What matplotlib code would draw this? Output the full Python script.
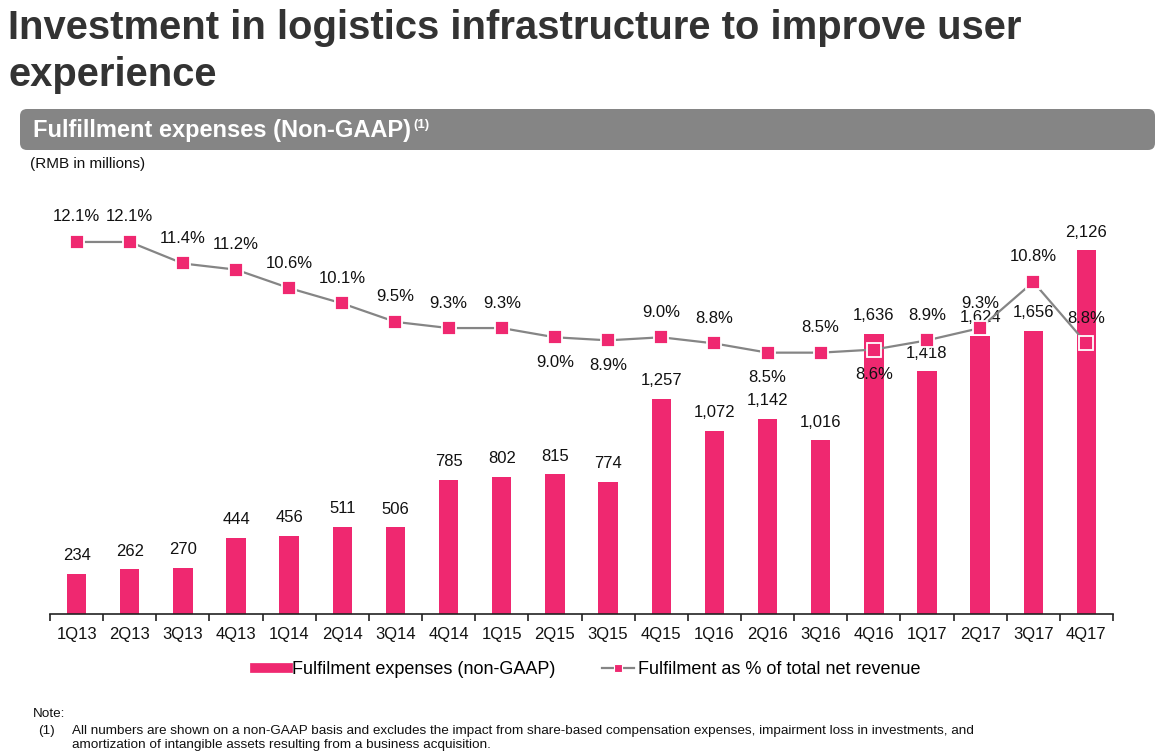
import matplotlib
matplotlib.use("Agg")
import matplotlib.pyplot as plt
from matplotlib import font_manager
from matplotlib.patches import FancyBboxPatch
from matplotlib.lines import Line2D

# Données
quarters = ["1Q13", "2Q13", "3Q13", "4Q13", "1Q14", "2Q14", "3Q14", "4Q14", "1Q15", "2Q15",
            "3Q15", "4Q15", "1Q16", "2Q16", "3Q16", "4Q16", "1Q17", "2Q17", "3Q17", "4Q17"]
expenses = [234, 262, 270, 444, 456, 511, 506, 785, 802, 815,
            774, 1257, 1072, 1142, 1016, 1636, 1418, 1624, 1656, 2126]
pct_revenue = [12.1, 12.1, 11.4, 11.2, 10.6, 10.1, 9.5, 9.3, 9.3, 9.0,
               8.9, 9.0, 8.8, 8.5, 8.5, 8.6, 8.9, 9.3, 10.8, 8.8]
# position des étiquettes % : 1 = au-dessus, -1 = en dessous
pct_label_side = [1, 1, 1, 1, 1, 1, 1, 1, 1, -1,
                  -1, 1, 1, -1, 1, -1, 1, 1, 1, 1]

PINK = "#EF2870"
GREY_LINE = "#858585"

plt.rcParams["font.family"] = ["Liberation Sans", "DejaVu Sans"]

fig = plt.figure(figsize=(11.63, 7.54), dpi=100)
W, H = 1163, 754

# Axes principaux (barres)
ax = fig.add_axes([50 / W, 1 - 614 / H, (1113 - 50) / W, (614 - 190) / H])
x = list(range(len(quarters)))
ax.bar(x, expenses, width=0.365, color=PINK, zorder=2)
ax.set_xlim(-0.5, len(quarters) - 0.5)
ax.set_ylim(0, 2477)

for xi, v in zip(x, expenses):
    ax.annotate(f"{v:,}", (xi, v), xytext=(0, 13), textcoords="offset points",
                ha="center", va="center", fontsize=12, color="#111111", zorder=5)

for side in ["top", "right", "left"]:
    ax.spines[side].set_visible(False)
ax.spines["bottom"].set_color("#222222")
ax.spines["bottom"].set_linewidth(1.2)
ax.set_yticks([])
ax.set_xticks([i - 0.5 for i in range(len(quarters) + 1)])
ax.set_xticklabels([])
ax.tick_params(axis="x", length=5, width=1.2, color="#222222", direction="out")
ax.set_xticks(x, minor=True)
ax.set_xticklabels(quarters, minor=True, fontsize=12, color="#111111")
ax.tick_params(axis="x", which="minor", length=0, pad=9)

# Axe secondaire (ligne %)
ax2 = ax.twinx()
ax2.set_ylim(0, 13.79)
ax2.plot(x, pct_revenue, color=GREY_LINE, lw=1.6, marker="s", markersize=10.5,
         markerfacecolor=PINK, markeredgecolor="white", markeredgewidth=1.3, zorder=3)
for xi, v, s in zip(x, pct_revenue, pct_label_side):
    ax2.annotate(f"{v:.1f}%", (xi, v), xytext=(0, 18 * s), textcoords="offset points",
                 ha="center", va="center", fontsize=12, color="#111111", zorder=5)
ax2.axis("off")

# Titre
fig.text(8 / W, 1 - 28 / H, "Investment in logistics infrastructure to improve user",
         fontsize=28.8, fontweight="bold", color="#333333", ha="left", va="center")
fig.text(8 / W, 1 - 75 / H, "experience",
         fontsize=28.8, fontweight="bold", color="#333333", ha="left", va="center")

# Bandeau gris
banner = FancyBboxPatch((20, H - 150), 1135, 41, boxstyle="round,pad=0,rounding_size=7",
                        facecolor="#858585", edgecolor="none", transform=None)
fig.patches.append(banner)
t = fig.text(33 / W, 1 - 131 / H, "Fulfillment expenses (Non-GAAP)", fontsize=17,
             fontweight="bold", color="white", ha="left", va="center")
renderer = fig.canvas.get_renderer()
bb = t.get_window_extent(renderer)
fig.text((bb.x1 + 2) / W, 1 - 125 / H, "(1)", fontsize=9.5, fontweight="bold",
         color="white", ha="left", va="center")

fig.text(30 / W, 1 - 164 / H, "(RMB in millions)", fontsize=11, color="#111111",
         ha="left", va="center")

# Légende
handles = [Line2D([], [], color=PINK, lw=7),
           Line2D([], [], color=GREY_LINE, lw=1.6, marker="s", markersize=6,
                  markerfacecolor=PINK, markeredgecolor="white", markeredgewidth=0.8)]
fig.legend(handles, ["Fulfilment expenses (non-GAAP)", "Fulfilment as % of total net revenue"],
           loc="center", bbox_to_anchor=(588 / W, 1 - 670 / H), ncol=2, frameon=False,
           fontsize=13, handlelength=1.8, handletextpad=0.2, columnspacing=2.6)

# Notes
names = {f.name for f in font_manager.fontManager.ttflist}
if "Liberation Sans Narrow" in names:
    note_font, note_size = ["Liberation Sans Narrow", "Liberation Sans"], 11.5
else:
    note_font, note_size = ["Liberation Sans", "DejaVu Sans"], 9.7
fig.text(33 / W, 1 - 714 / H, "Note:", fontsize=note_size, family=note_font,
         color="#111111", va="center")
fig.text(38 / W, 1 - 731 / H, "(1)", fontsize=note_size, family=note_font,
         color="#111111", va="center")
fig.text(72 / W, 1 - 731 / H,
         "All numbers are shown on a non-GAAP basis and excludes the impact from share-based "
         "compensation expenses, impairment loss in investments, and",
         fontsize=note_size, family=note_font, color="#111111", va="center")
fig.text(72 / W, 1 - 745 / H,
         "amortization of intangible assets resulting from a business acquisition.",
         fontsize=note_size, family=note_font, color="#111111", va="center")

fig.savefig("out.png", dpi=100)
